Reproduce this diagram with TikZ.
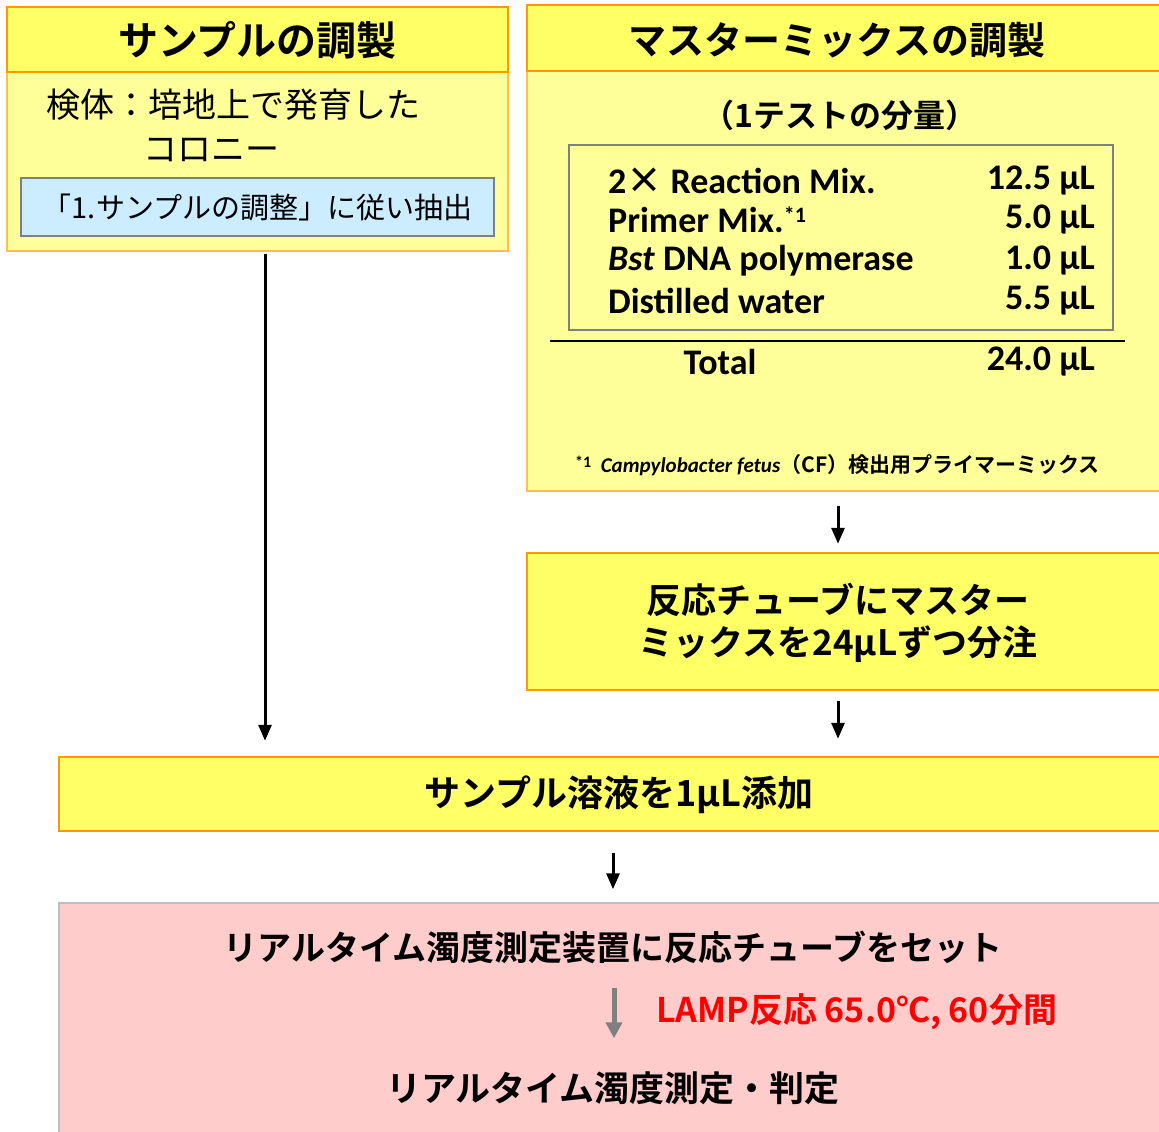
\documentclass[tikz,border=0pt]{standalone}
\usepackage{fontspec}
\setmainfont{Carlito}
\newfontfamily\jp{Noto Sans CJK JP}[BoldFont={Noto Sans CJK JP Bold}]
\usetikzlibrary{positioning,arrows.meta}
\definecolor{hdrfill}{HTML}{FFFF66}
\definecolor{hdrline}{HTML}{FF9900}
\definecolor{bodyfill}{HTML}{FFFF99}
\definecolor{bodyline}{HTML}{FFBF4D}
\definecolor{bluefill}{HTML}{CCECFF}
\definecolor{pinkfill}{HTML}{FFCCCC}
\newcommand{\fs}[1]{\fontsize{#1}{#1}\selectfont}
\begin{document}
\begin{tikzpicture}[x=1pt,y=-1pt,
  hdr/.style={draw=hdrline,fill=hdrfill,line width=2.5pt,inner sep=0pt},
  bodybox/.style={draw=bodyline,fill=bodyfill,line width=1.5pt,inner sep=0pt},
  arr/.style={line width=3pt,-{Triangle[length=16pt,width=13pt]}},
  jpb/.style={font=\jp\bfseries\fs{#1},inner sep=0pt},
  jpr/.style={font=\jp\fs{#1},inner sep=0pt},
  row/.style={font=\bfseries\fs{36},inner sep=0pt}]
  \useasboundingbox (0,0) rectangle (1159,1132);

  % sample side
  \node[bodybox,minimum width=501pt,minimum height=179pt] (lbody) at (257.5,161.5) {};
  \node[hdr,minimum width=501pt,minimum height=65pt] (lhead) at (257.5,39.5) {};
  \node[jpb=40] (ltitle) at (257.5,40) {サンプルの調製};
  \node[jpr=34,anchor=west] (spec) at (46,105) {検体：培地上で発育した};
  \node[jpr=34,anchor=west] (colony) at (143,150) {コロニー};
  \node[draw=gray,fill=bluefill,line width=1.5pt,minimum width=473pt,minimum height=58pt,
    jpr=29] (extract) at (257.5,207) {「1.サンプルの調整」に従い抽出};

  % master mix side
  \node[bodybox,minimum width=638pt,minimum height=420pt] (rbody) at (846,281) {};
  \node[hdr,minimum width=638pt,minimum height=66pt] (rhead) at (846,38) {};
  \node[jpb=38] (rtitle) at (837,40) {マスターミックスの調製};
  \node[jpb=32] (pertest) at (840,115) {（1テストの分量）};
  \node[draw=gray,line width=2pt,minimum width=544pt,minimum height=185pt] (mixbox) at (841,237.5) {};

  \node[row,anchor=west] (r1) at (608,181) {2{\jp ×} Reaction Mix.};
  \node[row,anchor=west] (r2) at (608,220) {Primer Mix.\raisebox{10pt}{\fs{22}*1}};
  \node[row,anchor=west] (r3) at (608,261) {\textit{Bst} DNA polymerase};
  \node[row,anchor=west] (r4) at (608,301) {Distilled water};
  \node[row,anchor=east] (v1) at (1095,181) {12.5 µL};
  \node[row,anchor=east] (v2) at (1095,220) {5.0 µL};
  \node[row,anchor=east] (v3) at (1095,261) {1.0 µL};
  \node[row,anchor=east] (v4) at (1095,301) {5.5 µL};
  \coordinate (ruleL) at (550,341);
  \coordinate (ruleR) at (1125,341);
  \draw[line width=2pt] (ruleL) -- (ruleR);
  \node[row] (total) at (720,362) {Total};
  \node[row,anchor=east] (vtotal) at (1095,362) {24.0 µL};

  \node[font=\bfseries\fs{21},inner sep=0pt,anchor=west] (note) at (575,465)
    {\raisebox{5pt}{\fs{16}*1}\ \ \textit{Campylobacter fetus}{\jp （CF）検出用プライマーミックス}};

  % dispense
  \node[hdr,minimum width=638pt,minimum height=137pt] (box2) at (846,621.5) {};
  \node[jpb=35,align=center] (dispense) at (838,623) {反応チューブにマスター\\[7pt]ミックスを24μLずつ分注};

  % add sample
  \node[hdr,minimum width=1106pt,minimum height=74pt] (box3) at (612,794) {};
  \node[jpb=36] (addtext) at (619,795) {サンプル溶液を1μL添加};

  % measurement
  \node[draw=gray!50,fill=pinkfill,line width=1.5pt,minimum width=1106pt,minimum height=237pt] (box4) at (612,1021.5) {};
  \node[jpb=34] (settext) at (613,947) {リアルタイム濁度測定装置に反応チューブをセット};
  \node[jpb=34,text=red,anchor=west] (lamp) at (656,1012) {LAMP反応 65.0℃, 60分間};
  \node[jpb=35] (judge) at (613,1088) {リアルタイム濁度測定・判定};

  % arrows
  \draw[arr,shorten <=14pt,shorten >=8pt] (rbody.south -| dispense) -- (box2.north -| dispense);
  \draw[arr,shorten <=10pt,shorten >=17pt] (box2.south -| dispense) -- (box3.north -| dispense);
  \draw[arr,shorten <=2pt,shorten >=15pt] ([xshift=7.5pt]lbody.south) -- ([xshift=7.5pt]lbody.south |- box3.north);
  \draw[arr,shorten <=21pt,shorten >=13pt] (box3.south -| settext) -- (box4.north -| settext);
  \draw[arr,draw=gray,fill=gray,line width=5pt,-{Triangle[length=16pt,width=16pt]},shorten <=24pt,shorten >=33pt]
    ([xshift=1pt]settext.south) -- ([xshift=1pt]judge.north);
\end{tikzpicture}
\end{document}
